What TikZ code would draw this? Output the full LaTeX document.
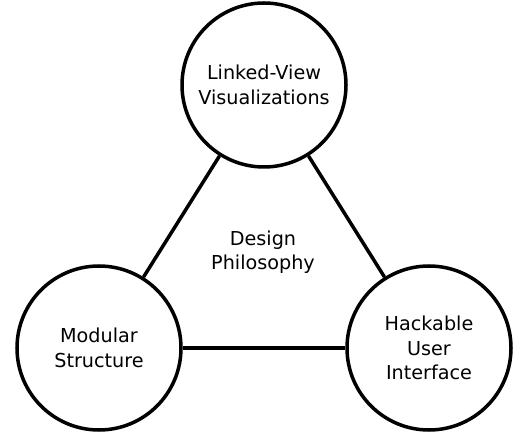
\documentclass[tikz,border=0pt]{standalone}
\usepackage{fontspec}
\setmainfont{DejaVu Sans}
\usetikzlibrary{positioning}

\begin{document}
\begin{tikzpicture}[
  x=1pt, y=1pt,
  every node/.style={align=center, font=\fontsize{19.2}{24.5}\selectfont},
  topic/.style={draw, circle, line width=3.5pt, minimum size=164pt, inner sep=0pt},
  link/.style={line width=3.5pt}
]
\useasboundingbox (0,0) rectangle (521,444);
\node[topic] (views) at (264,359) {Linked-View\\Visualizations};
\node[topic] (modular) at (99,96) {Modular\\Structure};
\node[topic] (hack) at (429,96) {Hackable\\User\\Interface};
\node (design) at (263,192) {Design\\Philosophy};

\draw[link] (views) -- (modular);
\draw[link] (views) -- (hack);
\draw[link] (modular) -- (hack);
\end{tikzpicture}
\end{document}
